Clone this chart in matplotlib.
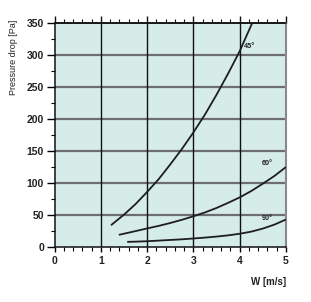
import matplotlib
matplotlib.use("Agg")
import matplotlib.pyplot as plt
from matplotlib.ticker import MultipleLocator

plt.rcParams['font.family'] = ['Liberation Sans', 'DejaVu Sans']

# Data
w45 = [1.22, 1.5, 1.75, 2.0, 2.25, 2.5, 2.75, 3.0, 3.25, 3.5, 3.75, 4.0, 4.27]
p45 = [34, 50.5, 67, 86, 106, 129, 153, 179, 207, 238, 271, 306, 350]
w60 = [1.39, 1.7, 2.0, 2.25, 2.5, 2.75, 3.0, 3.25, 3.5, 3.75, 4.0, 4.25, 4.5, 4.75, 5.0]
p60 = [19, 24, 29, 33, 37.5, 42.5, 48, 54, 61, 69, 77.5, 87.5, 99, 111, 125]
w90 = [1.57, 1.8, 2.0, 2.25, 2.5, 2.75, 3.0, 3.25, 3.5, 3.75, 4.0, 4.25, 4.5, 4.75, 5.0]
p90 = [8, 8.5, 9, 10, 11, 12, 13.3, 14.7, 16.3, 18.2, 20.7, 24, 28.8, 35, 43]
curve_labels = ['45°', '60°', '90°']
label_pos = [(4.22, 313), (4.59, 130), (4.60, 45)]
xticks = [0, 1, 2, 3, 4, 5]
yticks = [0, 50, 100, 150, 200, 250, 300, 350]

fig = plt.figure(figsize=(3.11, 3.02), dpi=100)
ax = fig.add_axes([54.5/311, 1-247/302, (286-54.5)/311, (247-23)/302])
ax.set_facecolor('#d6ece9')
ax.set_xlim(0, 5)
ax.set_ylim(0, 350)

# grid
for y in yticks[1:-1]:
    ax.axhline(y, color='#6e6e6e', lw=1.6, zorder=1)
for x in xticks[1:-1]:
    ax.axvline(x, color='#111111', lw=1.0, zorder=1)

for w, p in [(w45, p45), (w60, p60), (w90, p90)]:
    ax.plot(w, p, color='#1e1e1e', lw=1.3, zorder=3, solid_capstyle='butt',
            solid_joinstyle='round')

for lab, (x, y) in zip(curve_labels, label_pos):
    ax.text(x, y, lab, fontsize=5.2, fontweight='bold', color='#222222',
            ha='center', va='center', zorder=4)

ax.set_xticks(xticks)
ax.set_yticks(yticks)
ax.xaxis.set_minor_locator(MultipleLocator(0.2))
ax.yaxis.set_minor_locator(MultipleLocator(25))
ax.tick_params(axis='x', which='major', direction='out', length=3.5, width=1,
               top=False, bottom=True, pad=3, labelsize=7.5)
ax.tick_params(axis='x', which='minor', direction='out', length=3, width=0.8,
               top=False, bottom=True)
ax.tick_params(axis='y', which='major', direction='out', length=5.5, width=1,
               right=False, pad=2, labelsize=7.5)
ax.tick_params(axis='y', which='minor', direction='out', length=3, width=0.8,
               right=False)
for lbl in ax.get_xticklabels() + ax.get_yticklabels():
    lbl.set_fontweight('bold')
    lbl.set_color('#222222')

sec = ax.secondary_xaxis('top')
sec.set_xticks(xticks)
sec.xaxis.set_minor_locator(MultipleLocator(0.2))
sec.tick_params(axis='x', which='major', direction='out', length=5.2, width=1,
                labeltop=False, color='#111111')
sec.tick_params(axis='x', which='minor', direction='out', length=3, width=0.8,
                color='#111111')
sec.spines['top'].set_color('#111111')
sec.spines['top'].set_linewidth(1.1)

for s in ['left', 'bottom', 'top']:
    ax.spines[s].set_color('#111111')
    ax.spines[s].set_linewidth(1.1)
ax.spines['right'].set_color('#8a8a8a')
ax.spines['right'].set_linewidth(1.5)

fig.text(14/311, 1-20/302, 'Pressure drop [Pa]', rotation=90, ha='center',
         va='top', fontsize=6.5, color='#222222')
fig.text(286/311, 1-282/302, 'W [m/s]', ha='right', va='center',
         fontsize=7, fontweight='bold', color='#222222')

fig.savefig('out.png', dpi=100)
